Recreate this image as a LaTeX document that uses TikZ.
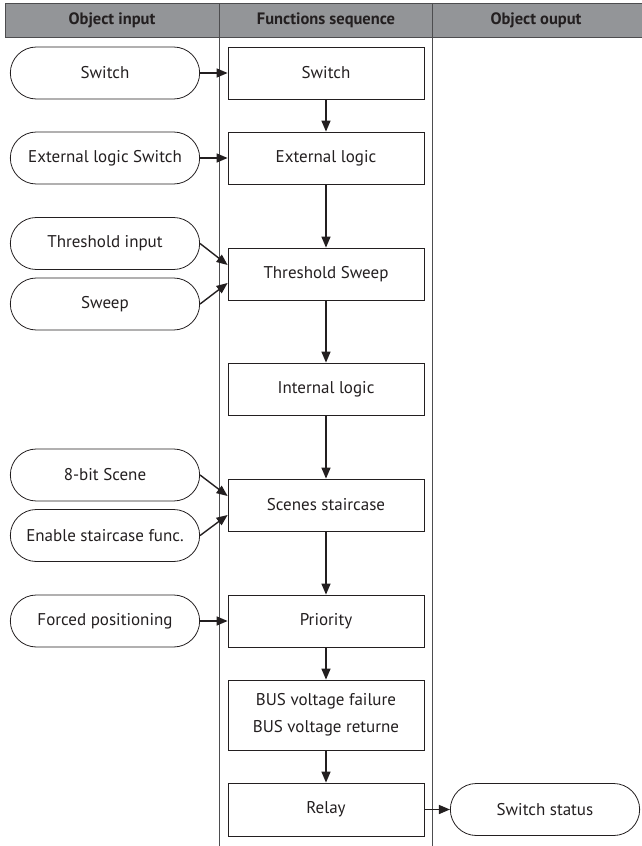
\documentclass[tikz,border=0pt]{standalone}
\usepackage{fontspec}
\setmainfont{PT Sans}
\usetikzlibrary{arrows.meta,calc,shapes.misc}
\definecolor{ink}{HTML}{231F20}
\definecolor{hdr}{HTML}{939598}
\definecolor{rule}{HTML}{4D4D4F}
\tikzset{
  inbox/.style={draw=ink, line width=0.8pt, rounded rectangle, minimum width=196pt, minimum height=52pt, text=ink, font=\fontsize{17}{20}\selectfont},
  fnbox/.style={draw=ink, line width=0.8pt, rectangle, minimum width=196pt, minimum height=52pt, text=ink, font=\fontsize{17}{20}\selectfont, align=center, inner sep=0pt},
  hdrtext/.style={text=ink, font=\fontsize{16.5}{20}\selectfont\bfseries},
  flow/.style={draw=ink, line width=1.4pt, -{Triangle[length=11pt,width=9pt]}},
  colrule/.style={draw=rule, line width=0.8pt}
}
\begin{document}
\begin{tikzpicture}[x=1pt,y=-1pt]
\useasboundingbox (0,0) rectangle (641,846);
% header
\path[fill=hdr, draw=rule, line width=0.6pt] (5,3) rectangle (645,37);
\draw[colrule] (219,3) -- (219,846);
\draw[colrule] (432,3) -- (432,846);
\node[hdrtext] (h1) at (112,20) {Object input};
\node[hdrtext] (h2) at (326,20) {Functions sequence};
\node[hdrtext] (h3) at (536,20) {Object ouput};
% inputs
\node[inbox] (in1) at (105,73) {Switch};
\node[inbox] (in2) at (105,158) {External logic Switch};
\node[inbox] (in3) at (105,243.5) {Threshold input};
\node[inbox] (in4) at (105,304) {Sweep};
\node[inbox] (in5) at (105,475) {8-bit Scene};
\node[inbox] (in6) at (105,535.5) {Enable staircase func.};
\node[inbox] (in7) at (105,621) {Forced positioning};
% functions
\node[fnbox] (f1) at (326,73) {Switch};
\node[fnbox] (f2) at (326,158) {External logic};
\node[fnbox] (f3) at (326,274) {Threshold Sweep};
\node[fnbox] (f4) at (326,389) {Internal logic};
\node[fnbox] (f5) at (326,505) {Scenes staircase};
\node[fnbox] (f6) at (326,621) {Priority};
\node[fnbox, minimum height=70pt] (f7) at (326,715) {BUS voltage failure\\[7pt]BUS voltage returne};
\node[fnbox, minimum height=53pt] (f8) at (326,809.5) {Relay};
% output
\node[inbox] (out1) at (545,809.5) {Switch status};
% connectors
\draw[flow] (in1.east) -- (f1.west);
\draw[flow] (in2.east) -- (f2.west);
\draw[flow] (in3.east) -- ([yshift=9pt]f3.west);
\draw[flow] (in4.east) -- ([yshift=-9pt]f3.west);
\draw[flow] (in5.east) -- ([yshift=9pt]f5.west);
\draw[flow] (in6.east) -- ([yshift=-10pt]f5.west);
\draw[flow] (in7.east) -- (f6.west);
\draw[flow] (f1) -- (f2);
\draw[flow] (f2) -- (f3);
\draw[flow] (f3) -- (f4);
\draw[flow] (f4) -- (f5);
\draw[flow] (f5) -- (f6);
\draw[flow] (f6) -- (f7);
\draw[flow] (f7) -- (f8);
\draw[flow] (f8) -- (out1);
\end{tikzpicture}
\end{document}
